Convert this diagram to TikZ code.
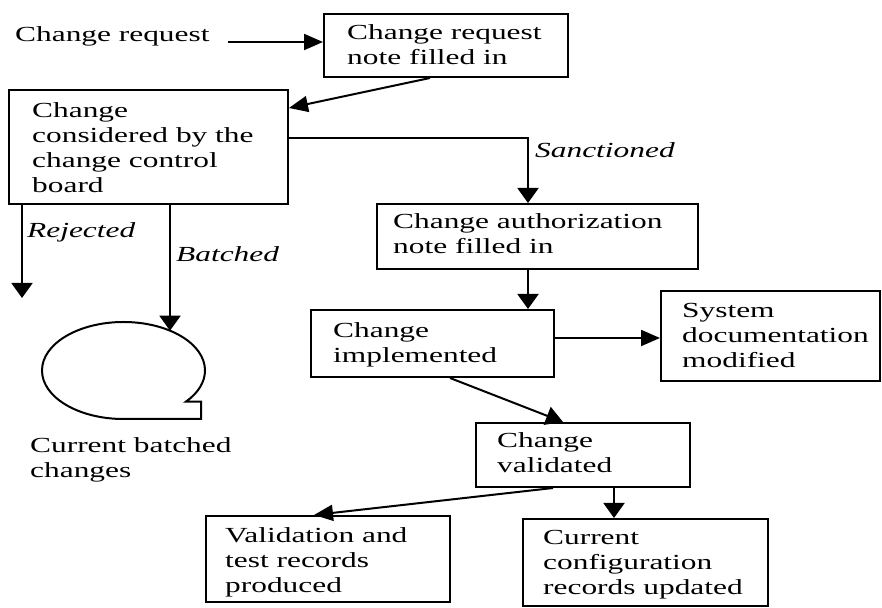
\documentclass[tikz,border=0pt]{standalone}
\usepackage{fontspec}
\setmainfont[FakeStretch=1.46]{Liberation Serif}
\usetikzlibrary{arrows.meta}
\begin{document}
\begin{tikzpicture}[x=1pt,y=1pt,
  box/.style={draw, line width=2pt, inner sep=0pt, anchor=north west},
  txt/.style={align=left, inner sep=0pt, anchor=north west, font=\fontsize{21.5}{25}\selectfont},
  cond/.style={inner sep=0pt, anchor=base west, font=\fontsize{21.5}{25}\selectfont\itshape},
  flow/.style={line width=2pt},
  headh/.style={-{Triangle[length=19pt,width=16pt]}},
  headv/.style={-{Triangle[length=15pt,width=21pt]}},
  headd/.style={-{Triangle[length=17pt,width=19pt]}}]

\useasboundingbox (0,0) rectangle (882,607);

% incoming request
\node[inner sep=0pt, anchor=base west, font=\fontsize{21.5}{25}\selectfont] (req) at (15,565) {Change request};

% process boxes
\node[box, minimum width=244pt, minimum height=63pt] (crn) at (323,594) {};
\node[txt] (crn-t) at (347,582.7) {Change request\\note filled in};

\node[box, minimum width=279pt, minimum height=114pt] (ccb) at (8,518) {};
\node[txt] (ccb-t) at (32,504.7) {Change\\considered by the\\change control\\board};

\node[box, minimum width=321pt, minimum height=65pt] (auth) at (376,404) {};
\node[txt] (auth-t) at (393,393.7) {Change authorization\\note filled in};

\node[box, minimum width=243pt, minimum height=67pt] (impl) at (310,298) {};
\node[txt] (impl-t) at (333,284.7) {Change\\implemented};

\node[box, minimum width=219pt, minimum height=90pt] (sys) at (660,317) {};
\node[txt] (sys-t) at (682,303.7) {System\\documentation\\modified};

\node[box, minimum width=214pt, minimum height=64pt] (val) at (475,185) {};
\node[txt] (val-t) at (497,174.7) {Change\\validated};

\node[box, minimum width=244pt, minimum height=86pt] (vtr) at (205,92) {};
\node[txt] (vtr-t) at (225,79.7) {Validation and\\test records\\produced};

\node[box, minimum width=245pt, minimum height=87pt] (cfg) at (522,89) {};
\node[txt] (cfg-t) at (543,76.7) {Current\\configuration\\records updated};

% batched-changes store (tape symbol)
\draw[flow] (123.5,188) arc[start angle=270, end angle=-40, x radius=81.5, y radius=48.5]
  -- (201,205.3) -- (201,188) -- cycle;
\coordinate (tape) at (170,276.3);
\node[txt] (cbc) at (30,169.7) {Current batched\\changes};

% free end of the rejected branch
\coordinate (rej) at (22,309);

% connectors
\draw[flow, headh] ([xshift=18pt]req.base east) -- (req.base east -| crn.west);
\draw[flow, headh] ([xshift=107pt]crn.south west) -- ([yshift=-19pt]ccb.north east);
\draw[flow, headv] ([yshift=-49pt]ccb.north east) -| ([xshift=152pt]auth.north west);
\draw[flow, headv] (ccb.south -| rej) -- (rej);
\draw[flow, headv] (ccb.south -| tape) -- (tape);
\draw[flow, headv] ([xshift=152pt]auth.south west) -- ([xshift=218pt]impl.north west);
\draw[flow, headh] ([yshift=-29pt]impl.north east) -- ([yshift=-29pt]impl.north east -| sys.west);
\draw[flow, headd] ([xshift=140pt]impl.south west) -- ([xshift=88pt]val.north west);
\draw[flow, headh] ([xshift=78pt]val.south west) -- ([xshift=109pt]vtr.north west);
\draw[flow, headv] ([xshift=139pt]val.south west) -- ([xshift=92pt]cfg.north west);

% branch conditions
\node[cond] (sanc) at (535,449) {Sanctioned};
\node[cond] (rejl) at (27,369) {Rejected};
\node[cond] (batl) at (176,345) {Batched};

\end{tikzpicture}
\end{document}
